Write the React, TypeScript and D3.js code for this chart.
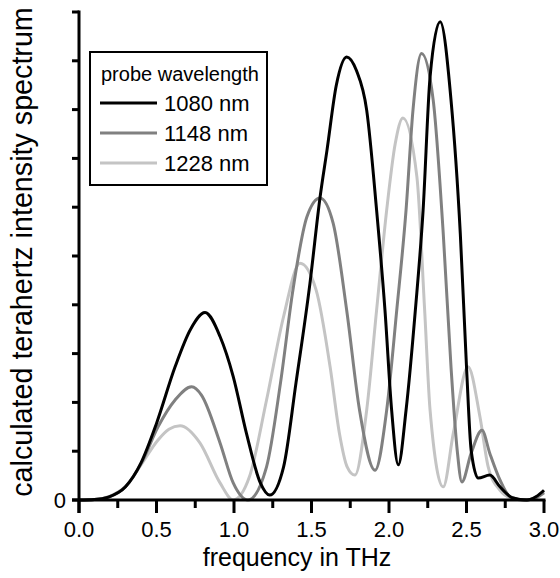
import { useEffect, useRef } from "react";
import * as d3 from "d3";

// spectra: [frequency THz, intensity a.u.]
const series1080: [number, number][] = [
  [0, 0], [0.1, 0.01], [0.19, 0.06], [0.3, 0.27], [0.4, 0.76], [0.5, 1.57], [0.62, 2.73], [0.72, 3.5],
  [0.813, 3.84], [0.91, 3.35], [0.995, 2.53], [1.08, 1.37], [1.17, 0.35], [1.23, 0.1], [1.32, 0.68],
  [1.4, 2.4], [1.49, 4.44], [1.555, 6.2], [1.6, 7.17], [1.66, 8.5], [1.727, 9.08], [1.79, 8.8],
  [1.856, 7.99], [1.92, 5.94], [1.974, 3.89], [2.017, 1.84], [2.06, 0.72], [2.11, 1.84], [2.17, 3.89],
  [2.22, 5.94], [2.265, 8.67], [2.33, 9.8], [2.4, 8.2], [2.46, 5.46], [2.5, 2.73], [2.53, 1.02],
  [2.576, 0.45], [2.65, 0.51], [2.716, 0.27], [2.8, 0.04], [2.89, 0], [2.95, 0.07], [3.0, 0.2],
];

const series1148: [number, number][] = [
  [0, 0], [0.1, 0.01], [0.2, 0.07], [0.3, 0.27], [0.4, 0.74], [0.51, 1.5], [0.62, 2.05], [0.727, 2.32],
  [0.79, 2.15], [0.91, 1.17], [0.995, 0.35], [1.09, 0], [1.21, 0.68], [1.3, 2.4], [1.38, 4.3],
  [1.47, 5.8], [1.555, 6.19], [1.64, 5.67], [1.727, 3.89], [1.81, 1.84], [1.91, 0.61], [1.985, 1.84],
  [2.05, 3.89], [2.11, 5.94], [2.155, 8.0], [2.21, 9.15], [2.285, 8.2], [2.35, 5.46], [2.4, 2.73],
  [2.44, 1.02], [2.47, 0.37], [2.53, 0.96], [2.6, 1.43], [2.65, 0.96], [2.716, 0.41], [2.78, 0.07],
  [2.87, 0], [2.95, 0.05], [3.0, 0.15],
];

const series1228: [number, number][] = [
  [0, 0], [0.1, 0.01], [0.2, 0.08], [0.3, 0.28], [0.4, 0.72], [0.51, 1.23], [0.58, 1.45], [0.652, 1.52],
  [0.78, 1.17], [0.91, 0.35], [0.995, 0], [1.1, 0.48], [1.21, 2.05], [1.32, 3.76], [1.426, 4.85],
  [1.53, 4.3], [1.62, 2.73], [1.68, 1.37], [1.73, 0.68], [1.78, 0.51], [1.856, 1.84], [1.92, 3.89],
  [1.985, 5.94], [2.04, 7.3], [2.09, 7.83], [2.18, 6.62], [2.23, 3.89], [2.265, 1.84], [2.35, 0.27],
  [2.415, 1.37], [2.51, 2.73], [2.587, 1.7], [2.64, 0.68], [2.716, 0.2], [2.8, 0.03], [2.88, 0],
  [2.95, 0.06], [3.0, 0.17],
];

const legendLabels = ["1080 nm", "1148 nm", "1228 nm"];
const lineColors = ["#000000", "#808080", "#c4c4c4"];
const xMajorTicks = [0, 0.5, 1.0, 1.5, 2.0, 2.5, 3.0];
const xMinorTicks = [0.25, 0.75, 1.25, 1.75, 2.25, 2.75];
const yTicks = [0, 1, 2, 3, 4, 5, 6, 7, 8, 9, 10];

export default function App() {
  const svgRef = useRef<SVGSVGElement>(null);

  useEffect(() => {
    const svg = d3.select(svgRef.current);
    svg.selectAll("*").remove();

    const font = "'Liberation Sans', Arial, sans-serif";
    const x = d3.scaleLinear().domain([0, 3]).range([79, 544]);
    const y = d3.scaleLinear().domain([0, 10]).range([500, 12]);

    const line = d3.line<[number, number]>()
      .x(d => x(d[0]))
      .y(d => y(d[1]))
      .curve(d3.curveMonotoneX);

    const allSeries = [series1080, series1148, series1228];
    // draw light first so black ends on top
    [2, 1, 0].forEach(i => {
      svg.append("path")
        .datum(allSeries[i])
        .attr("fill", "none")
        .attr("stroke", lineColors[i])
        .attr("stroke-width", 3)
        .attr("stroke-linejoin", "round")
        .attr("d", line);
    });

    // axes
    const ax = svg.append("g").attr("stroke", "#000").attr("stroke-width", 3);
    ax.append("line").attr("x1", 72).attr("x2", x(3) + 1.5).attr("y1", y(0)).attr("y2", y(0));
    ax.append("line").attr("x1", x(0)).attr("x2", x(0)).attr("y1", y(10) - 1.5).attr("y2", 513);

    ax.selectAll("line.xmaj")
      .data(xMajorTicks)
      .join("line")
      .attr("x1", d => x(d)).attr("x2", d => x(d))
      .attr("y1", y(0)).attr("y2", 513);

    ax.selectAll("line.xmin")
      .data(xMinorTicks)
      .join("line")
      .attr("x1", d => x(d)).attr("x2", d => x(d))
      .attr("y1", y(0)).attr("y2", 508);

    ax.selectAll("line.ytick")
      .data(yTicks)
      .join("line")
      .attr("x1", 72).attr("x2", x(0))
      .attr("y1", d => y(d)).attr("y2", d => y(d));

    svg.selectAll("text.xlab")
      .data(xMajorTicks)
      .join("text")
      .attr("x", d => x(d))
      .attr("y", 537)
      .attr("text-anchor", "middle")
      .attr("font-family", font)
      .attr("font-size", 22)
      .text(d => d.toFixed(1));

    svg.append("text")
      .attr("x", 66).attr("y", y(0) + 8)
      .attr("text-anchor", "end")
      .attr("font-family", font)
      .attr("font-size", 22)
      .text("0");

    svg.append("text")
      .attr("x", 297).attr("y", 566)
      .attr("text-anchor", "middle")
      .attr("font-family", font)
      .attr("font-size", 25)
      .text("frequency in THz");

    svg.append("text")
      .attr("transform", "translate(32, 252) rotate(-90)")
      .attr("text-anchor", "middle")
      .attr("font-family", font)
      .attr("font-size", 28.7)
      .text("calculated terahertz intensity spectrum");

    // legend
    const lg = svg.append("g");
    lg.append("rect")
      .attr("x", 90).attr("y", 52).attr("width", 177).attr("height", 133)
      .attr("fill", "#fff").attr("stroke", "#000").attr("stroke-width", 2);
    lg.append("text")
      .attr("x", 101).attr("y", 81)
      .attr("font-family", font).attr("font-size", 20)
      .text("probe wavelength");
    legendLabels.forEach((lab, i) => {
      const ly = 103 + i * 30;
      lg.append("line")
        .attr("x1", 100).attr("x2", 157).attr("y1", ly).attr("y2", ly)
        .attr("stroke", lineColors[i]).attr("stroke-width", 3);
      lg.append("text")
        .attr("x", 164).attr("y", ly + 8)
        .attr("font-family", font).attr("font-size", 22)
        .text(lab);
    });
  }, []);

  return (
    <svg
      ref={svgRef}
      width={560}
      height={578}
      style={{ position: "absolute", left: 0, top: 0, background: "#fff" }}
    />
  );
}
